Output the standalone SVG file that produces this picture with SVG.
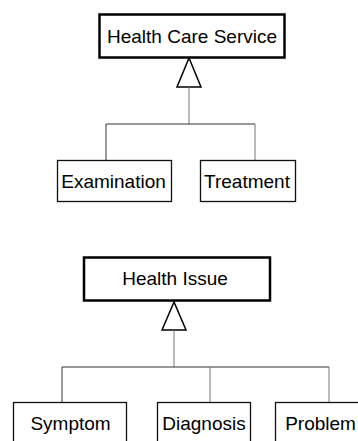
<svg xmlns="http://www.w3.org/2000/svg" width="358" height="441" viewBox="0 0 358 441">
<style>
.parent{fill:#fff;stroke:#000;stroke-width:2.5}
.child{fill:#fff;stroke:#111;stroke-width:1.3}
.lbl{font-family:"Liberation Sans",Arial,sans-serif;font-size:19px;fill:#000;text-anchor:middle}
.con{fill:none;stroke:#333;stroke-width:1}
.con2{fill:none;stroke:#777;stroke-width:1}
.tri{fill:#fff;stroke:#000;stroke-width:1.5}
</style>
<rect width="358" height="441" fill="#fff"/>
<g id="connectors">
<polygon class="tri" points="189,58 177,87 201,87"/>
<line class="con2" x1="189" y1="87" x2="189" y2="124"/>
<polyline class="con" points="106,160 106,124 255,124"/>
<line class="con2" x1="255" y1="124" x2="255" y2="160"/>
<polygon class="tri" points="174,302 162,330 186,330"/>
<line class="con2" x1="174" y1="330" x2="174" y2="367"/>
<polyline class="con" points="62,402 62,367 329,367"/>
<line class="con2" x1="210" y1="367" x2="210" y2="402"/>
<line class="con2" x1="329" y1="367" x2="329" y2="402"/>
</g>
<g id="health-care-service">
<rect class="parent" x="99.5" y="14.5" width="185" height="43"/>
<text class="lbl" x="192" y="43">Health Care Service</text>
</g>
<g id="examination">
<rect class="child" x="57.5" y="160.5" width="114" height="41"/>
<text class="lbl" x="113.5" y="187.5">Examination</text>
</g>
<g id="treatment">
<rect class="child" x="200.5" y="160.5" width="95" height="41"/>
<text class="lbl" x="247" y="187.5">Treatment</text>
</g>
<g id="health-issue">
<rect class="parent" x="84" y="257.5" width="186" height="43"/>
<text class="lbl" x="175" y="285">Health Issue</text>
</g>
<g id="symptom">
<rect class="child" x="13.5" y="402.5" width="113" height="50"/>
<text class="lbl" x="70.5" y="430">Symptom</text>
</g>
<g id="diagnosis">
<rect class="child" x="157.5" y="402.5" width="93" height="50"/>
<text class="lbl" x="204" y="430">Diagnosis</text>
</g>
<g id="problem">
<rect class="child" x="275.5" y="402.5" width="100" height="50"/>
<text class="lbl" x="320.5" y="430">Problem</text>
</g>
</svg>
